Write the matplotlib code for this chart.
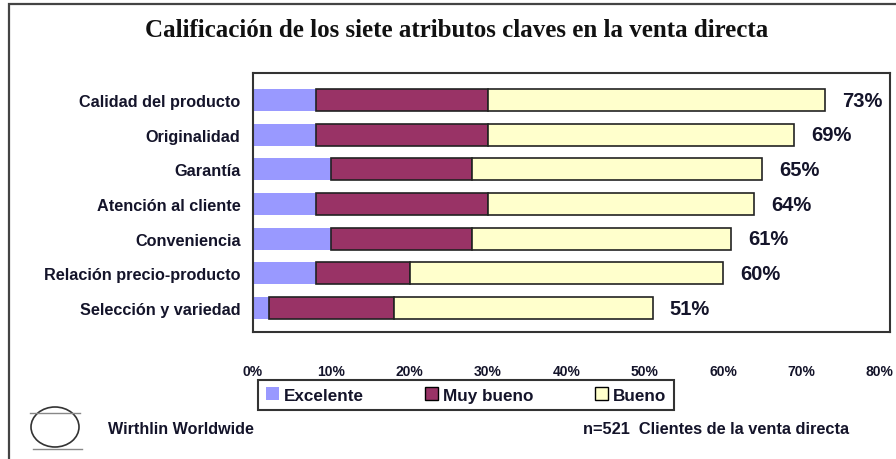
import matplotlib.pyplot as plt
from matplotlib.patches import Rectangle, Ellipse

# Data
attributes = ["Calidad del producto", "Originalidad", "Garantía", "Atención al cliente",
              "Conveniencia", "Relación precio-producto", "Selección y variedad"]
excelente = [8, 8, 10, 8, 10, 8, 2]
muy_bueno = [22, 22, 18, 22, 18, 12, 16]
bueno = [43, 39, 37, 34, 33, 40, 33]
totals = [73, 69, 65, 64, 61, 60, 51]
ticks = [0, 10, 20, 30, 40, 50, 60, 70, 80]

colors = {"Excelente": "#9999FF", "Muy bueno": "#993366", "Bueno": "#FFFFCC"}
txt = "#14142a"
sans = ["Liberation Sans", "DejaVu Sans"]

fig = plt.figure(figsize=(8.96, 4.6), dpi=100)
ax = fig.add_axes([253/896, 1-333/460, 637/896, 259/460])

y = list(range(len(attributes)))
h = 0.64
ax.barh(y, excelente, height=h, color=colors["Excelente"], linewidth=0)
ax.barh(y, muy_bueno, height=h, left=excelente, color=colors["Muy bueno"],
        edgecolor="#222222", linewidth=1.2)
left3 = [a + b for a, b in zip(excelente, muy_bueno)]
ax.barh(y, bueno, height=h, left=left3, color=colors["Bueno"],
        edgecolor="#222222", linewidth=1.2)

for yi, t in zip(y, totals):
    ax.text(t + 2.2, yi, f"{t}%", ha="left", va="center", fontsize=14.5,
            fontweight="bold", color=txt, family=sans)

ax.set_xlim(0, 81.3)
ax.set_ylim(6.69, -0.78)
ax.set_xticks(ticks)
ax.set_xticklabels([f"{t}%" for t in ticks], fontsize=10, fontweight="bold",
                   color=txt, family=sans)
ax.set_yticks(y)
ax.set_yticklabels(attributes, fontsize=11.7, fontweight="bold", color=txt, family=sans)
ax.tick_params(axis="x", length=0, pad=23)
ax.tick_params(axis="y", length=0, pad=9)
for s in ax.spines.values():
    s.set_color("#333333")
    s.set_linewidth(1.5)

# Title
fig.text(457/896, 1-31/460, "Calificación de los siete atributos claves en la venta directa",
         ha="center", va="center", fontsize=18, fontweight="bold",
         family=["Liberation Serif", "DejaVu Serif"], color="#111111")

# Legend
handles = [Rectangle((0, 0), 1, 1, facecolor=colors["Excelente"], linewidth=0),
           Rectangle((0, 0), 1, 1, facecolor=colors["Muy bueno"], edgecolor="black", linewidth=1),
           Rectangle((0, 0), 1, 1, facecolor=colors["Bueno"], edgecolor="black", linewidth=1)]
leg = fig.legend(handles, list(colors.keys()), loc="center",
                 bbox_to_anchor=(466/896, 1-396/460), ncol=3, frameon=True,
                 fancybox=False, edgecolor="black", handlelength=0.75, handleheight=0.75,
                 handletextpad=0.3, columnspacing=3.6, borderpad=0.45, borderaxespad=0,
                 prop={"family": sans, "weight": "bold", "size": 12.3})
leg.get_frame().set_linewidth(1.5)
for t in leg.get_texts():
    t.set_color(txt)

# Footer
fig.text(108/896, 1-430/460, "Wirthlin Worldwide", ha="left", va="center", fontsize=11.6,
         fontweight="bold", color=txt, family=sans)
fig.text(583/896, 1-430/460, "n=521  Clientes de la venta directa", ha="left", va="center",
         fontsize=11.8, fontweight="bold", color=txt, family=sans)

# Logo
fig.patches.append(Ellipse((55/896, 1-428/460), 48/896, 40/460, transform=fig.transFigure,
                           fill=False, edgecolor="#333333", linewidth=1.2))
fig.lines.append(plt.Line2D([30/896, 80/896], [1-414/460, 1-414/460], transform=fig.transFigure,
                            color="#888888", linewidth=1))
fig.lines.append(plt.Line2D([33/896, 82/896], [1-450/460, 1-450/460], transform=fig.transFigure,
                            color="#888888", linewidth=1))

# Outer frame
fig.patches.append(Rectangle((9/896, -0.05), 1.0, 1-5/460 + 0.05, transform=fig.transFigure,
                             fill=False, edgecolor="#444444", linewidth=1.6))

fig.savefig("out.png", dpi=100)
